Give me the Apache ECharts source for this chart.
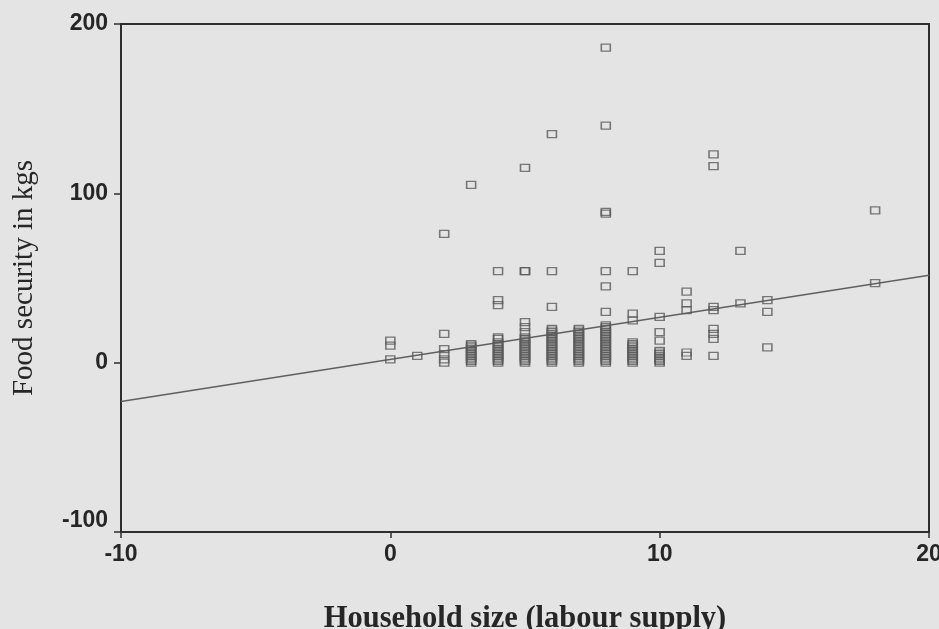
<!DOCTYPE html>
<html>
<head>
<meta charset="utf-8">
<script src="https://cdn.jsdelivr.net/npm/echarts@6/dist/echarts.min.js"></script>
<style>
  html, body { margin: 0; padding: 0; background: #e4e4e4; }
  #chart { width: 939px; height: 629px; }
</style>
</head>
<body>
<div id="chart"></div>
<script>
// Household sizes observed and the food security (kg) recorded for each household at that size
const sizeLevels = [0, 1, 2, 3, 4, 5, 6, 7, 8, 9, 10, 11, 12, 13, 14, 18];
const kgsAtSize = [
  [2, 10, 13],
  [4],
  [76, 17, 8, 5, 2, 0],
  [105, 11, 10, 9, 8, 7, 6, 5, 4, 3, 2, 1, 0],
  [54, 37, 34, 15, 14, 12, 11, 10, 9, 8, 7, 6, 5, 4, 3, 2, 1, 0],
  [115, 54, 54, 24, 21, 18, 15, 14, 13, 12, 11, 10, 9, 8, 7, 6, 5, 4, 3, 2, 1, 0],
  [135, 54, 33, 20, 19, 18, 17, 16, 15, 14, 13, 12, 11, 10, 9, 8, 7, 6, 5, 4, 3, 2, 1, 0],
  [20, 19, 18, 17, 16, 15, 14, 13, 12, 11, 10, 9, 8, 7, 6, 5, 4, 3, 2, 1, 0],
  [186, 140, 89, 88, 54, 45, 30, 22, 21, 20, 19, 18, 17, 16, 15, 14, 13, 12, 11, 10, 9, 8, 7, 6, 5, 4, 3, 2, 1, 0],
  [54, 29, 25, 12, 11, 10, 9, 8, 7, 6, 5, 4, 3, 2, 1, 0],
  [66, 59, 27, 18, 13, 7, 6, 5, 4, 3, 2, 1, 0],
  [42, 35, 31, 6, 4],
  [123, 116, 33, 31, 20, 17, 14, 4],
  [66, 35],
  [37, 30, 9],
  [90, 47]
];

// Fitted linear trend, given at the two ends of the x range
const fitX = [-10, 20];
const fitY = [-23, 51.6];

// Axis tick values
const xTicks = [-10, 0, 10, 20];
const yTicks = [-100, 0, 100, 200];

const points = [];
sizeLevels.forEach((s, i) => {
  kgsAtSize[i].forEach(v => points.push([s, v]));
});
const fitLine = fitX.map((x, i) => [x, fitY[i]]);

const axisColor = '#2e2e2e';
const tickFont = {
  fontFamily: 'Liberation Sans, Arial, sans-serif',
  fontWeight: 'bold',
  fontSize: 23,
  color: '#262626'
};

const chart = echarts.init(document.getElementById('chart'), null, { renderer: 'canvas' });
chart.setOption({
  animation: false,
  backgroundColor: '#e4e4e4',
  grid: {
    left: 121, top: 24, width: 808, height: 508,
    containLabel: false,
    outerBoundsMode: 'none',
    show: true, borderColor: axisColor, borderWidth: 2,
    backgroundColor: 'transparent'
  },
  xAxis: {
    type: 'value',
    min: xTicks[0], max: xTicks[xTicks.length - 1], interval: 10,
    axisLine: { show: true, onZero: false, lineStyle: { color: axisColor, width: 2 } },
    axisTick: { show: true, inside: false, length: 6, lineStyle: { color: axisColor, width: 1.5 } },
    axisLabel: Object.assign({ margin: 11 }, tickFont),
    splitLine: { show: false },
    name: 'Household size (labour supply)',
    nameLocation: 'middle',
    nameGap: 72,
    nameTextStyle: {
      fontFamily: 'Liberation Serif, Times New Roman, serif',
      fontWeight: 'bold', fontSize: 30.5, color: '#262626'
    }
  },
  yAxis: {
    type: 'value',
    min: yTicks[0], max: yTicks[yTicks.length - 1], interval: 100,
    axisLine: { show: true, onZero: false, lineStyle: { color: axisColor, width: 2 } },
    axisTick: { show: true, inside: false, length: 7, lineStyle: { color: axisColor, width: 1.5 } },
    axisLabel: Object.assign({ margin: 13, verticalAlignMinLabel: 'bottom' }, tickFont),
    splitLine: { show: false },
    name: 'Food security in kgs',
    nameLocation: 'middle',
    nameRotate: 90,
    nameGap: 82,
    nameTextStyle: {
      fontFamily: 'Liberation Serif, Times New Roman, serif',
      fontWeight: 'normal', fontSize: 29, color: '#262626'
    }
  },
  series: [
    {
      type: 'line',
      data: fitLine,
      symbol: 'none',
      silent: true,
      lineStyle: { color: '#606060', width: 1.5 },
      z: 1
    },
    {
      type: 'scatter',
      data: points,
      symbol: 'rect',
      symbolSize: [9, 7],
      silent: true,
      itemStyle: { color: 'rgba(0,0,0,0)', borderColor: '#5a5a5a', borderWidth: 1.4 },
      z: 2
    }
  ]
});
</script>
</body>
</html>
